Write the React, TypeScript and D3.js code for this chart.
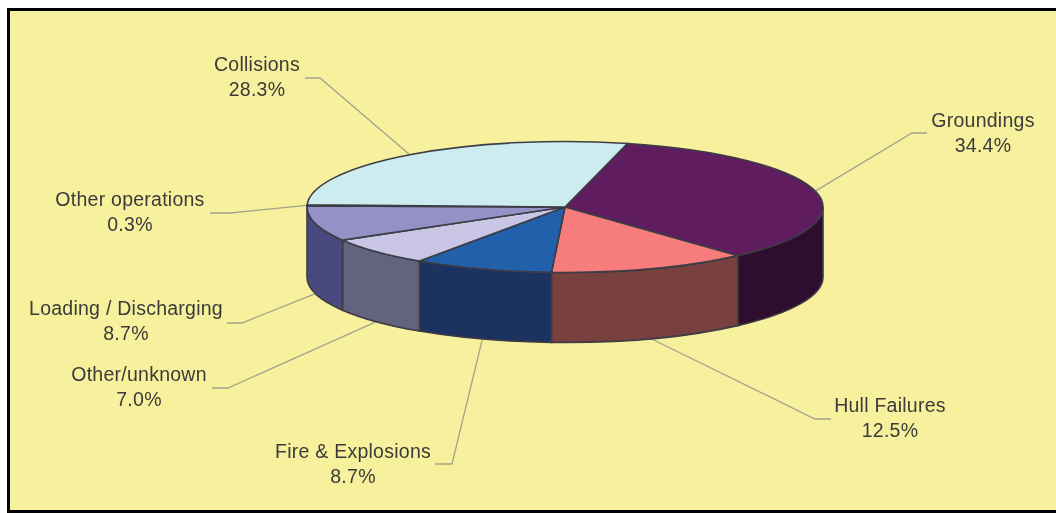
import * as d3 from "d3";

const categories = [
  "Groundings",
  "Hull Failures",
  "Fire & Explosions",
  "Other/unknown",
  "Loading / Discharging",
  "Other operations",
  "Collisions",
];
const shares = [34.4, 12.5, 8.7, 7.0, 8.7, 0.3, 28.3];
const topColors = ["#5f1f5f", "#f77b7b", "#2060ac", "#c8c6e4", "#9391c5", "#222222", "#cdecf0"];
const sideColors = ["#2e0a2e", "#793f3f", "#1b315e", "#64637f", "#4a4a7e", "#4a4a7e", "#6b7f82"];

// where each label sits, and the horizontal stub of its leader line: [x, y, stubStart, stubEnd, stubY]
const labelLayout = [
  [983, 127, 927, 912, 133],
  [890, 412, 831, 815, 419],
  [353, 458, 435, 452, 464],
  [139, 381, 212, 228, 388],
  [126, 315, 227, 242, 323],
  [130, 206, 210, 230, 213],
  [257, 71, 305, 320, 78],
];

const width = 1056;
const height = 513;
const cx = 565;
const cy = 207;
const rx = 258;
const ry = 65.5;
const depth = 70;
const startDeg = 14;

const rad = (deg: number) => (deg * Math.PI) / 180;
const px = (a: number) => cx + rx * Math.sin(a);
const py = (a: number) => cy - ry * Math.cos(a);

const pie = d3
  .pie<number>()
  .sort(null)
  .startAngle(rad(startDeg))
  .endAngle(rad(startDeg + 360));
const slices = pie(shares);

const arc = d3.arc<d3.PieArcDatum<number>>().innerRadius(0).outerRadius(rx);

// wall of a slice, only the part on the front half of the disc shows
function sidePath(a0: number, a1: number) {
  const from = Math.max(a0, Math.PI / 2);
  const to = Math.min(a1, (3 * Math.PI) / 2);
  if (to <= from) return null;
  return (
    `M${px(from)},${py(from)}` +
    `A${rx},${ry} 0 0 1 ${px(to)},${py(to)}` +
    `L${px(to)},${py(to) + depth}` +
    `A${rx},${ry} 0 0 0 ${px(from)},${py(from) + depth}Z`
  );
}

const leader = d3.line();

export default function App() {
  return (
    <svg
      width={width}
      height={height}
      style={{ position: "absolute", left: 0, top: 0, background: "#fff" }}
    >
      <defs>
        <filter id="soft" x="0" y="0" width="100%" height="100%">
          <feGaussianBlur stdDeviation="0.7" />
        </filter>
      </defs>
      <rect x={8.5} y={9.5} width={width} height={502} fill="#f7f19d" stroke="#000" strokeWidth={3} />
      <g filter="url(#soft)">
        <rect x={12} y={13} width={width - 12} height={height - 17} fill="#f7f19d" />

        {/* Leader lines */}
        {slices.map((s, i) => {
          const mid = (s.startAngle + s.endAngle) / 2;
          const front = Math.cos(mid) < 0;
          const [, , x0, x1, y] = labelLayout[i];
          return (
            <path
              key={categories[i]}
              d={leader([
                [x0, y],
                [x1, y],
                [px(mid), py(mid) + (front ? depth : 0)],
              ])!}
              fill="none"
              stroke="#a3a38c"
              strokeWidth={1.3}
            />
          );
        })}

        {/* Walls */}
        {slices.map((s, i) => {
          const d = sidePath(s.startAngle, s.endAngle);
          return d ? (
            <path key={categories[i]} d={d} fill={sideColors[i]} stroke="#3c3c44" strokeWidth={1.6} />
          ) : null;
        })}

        {/* Top of the disc */}
        <g transform={`translate(${cx},${cy}) scale(1,${ry / rx})`}>
          {slices.map((s, i) => (
            <path
              key={categories[i]}
              d={arc(s)!}
              fill={topColors[i]}
              stroke="#3c3c44"
              strokeWidth={1.6}
              style={{ vectorEffect: "non-scaling-stroke" }}
            />
          ))}
        </g>

        {/* Labels */}
        <g
          fontFamily="'Liberation Sans', Arial, sans-serif"
          fontSize={19.5}
          letterSpacing={0.25}
          fill="#3a3a3a"
          textAnchor="middle"
        >
          {categories.map((c, i) => {
            const [x, y] = labelLayout[i];
            return (
              <text key={c} x={x} y={y}>
                <tspan x={x}>{c}</tspan>
                <tspan x={x} dy={25}>
                  {d3.format(".1f")(shares[i])}%
                </tspan>
              </text>
            );
          })}
        </g>
      </g>
    </svg>
  );
}
